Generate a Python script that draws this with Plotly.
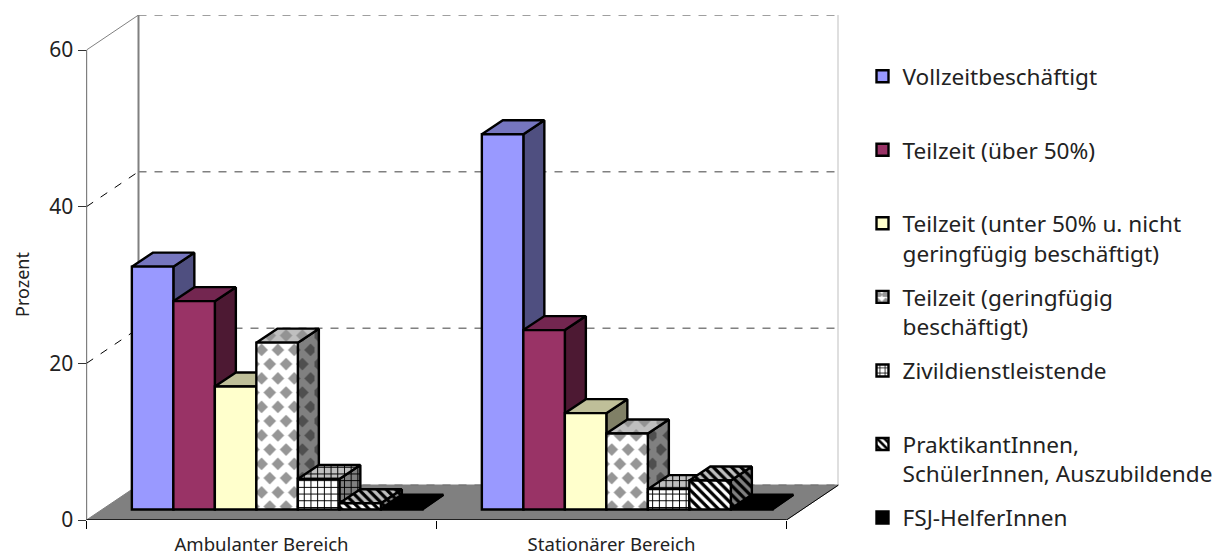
import plotly.graph_objects as go

# Percent shares per care sector
categories = ["Ambulanter Bereich", "Stationärer Bereich"]
series_names = [
    "Vollzeitbeschäftigt<br> ",
    "Teilzeit (über 50%)<br> ",
    "Teilzeit (unter 50% u. nicht<br>geringfügig beschäftigt)",
    "Teilzeit (geringfügig<br>beschäftigt)",
    "Zivildienstleistende<br> ",
    "PraktikantInnen,<br>SchülerInnen, Auszubildende",
    "FSJ-HelferInnen",
]
vollzeit = [31.0, 47.9]
teilzeit_ueber50 = [26.6, 22.9]
teilzeit_unter50 = [15.7, 12.3]
teilzeit_gering = [21.3, 9.7]
zivildienst = [3.9, 2.6]
praktikanten = [0.8, 3.7]
fsj = [0.1, 0.1]
y_ticks = [0, 20, 40, 60]

values = [vollzeit, teilzeit_ueber50, teilzeit_unter50, teilzeit_gering,
          zivildienst, praktikanten, fsj]

W, H = 1219, 556
PX_PER_CAT = 350.0
PX_PER_UNIT = 470.0 / 60
LEFT, BOTTOM = 86.5, 520.0

# Oblique projection of the box and of the bars, in axis units
WALL_X, WALL_Y = 52 / PX_PER_CAT, 35 / PX_PER_UNIT
FRONT_X, FRONT_Y = 15.6 / PX_PER_CAT, 10.5 / PX_PER_UNIT
DEPTH_X, DEPTH_Y = 21 / PX_PER_CAT, 14 / PX_PER_UNIT
BARGAP = 0.17
BAR_W = (1 - BARGAP) / len(values)
X_MAX = 2 + WALL_X
Y_MAX = 60 + WALL_Y


def diamond_tile(nx=7, ny=8, dx=16.3, dy=14.25, hw=6.3, hh=6.4):
    """Staggered lattice of diamonds for a square pattern tile."""
    parts = []
    for row in range(ny):
        for col in range(nx):
            cx = (col + 0.5 * (row % 2) + 0.25) * dx
            cy = (row + 0.5) * dy
            parts.append(f"M{cx-hw:.2f},{cy:.2f}L{cx:.2f},{cy-hh:.2f}L{cx+hw:.2f},{cy:.2f}L{cx:.2f},{cy+hh:.2f}Z")
    return "".join(parts)


DIAMONDS = diamond_tile()
TILE = 114


def pat(shape=None, bg="#fff", fg="#000", size=7, sol=0.3, path=None):
    if path:
        return dict(path=path, bgcolor=bg, fgcolor=fg, size=size, solidity=sol, fgopacity=1)
    return dict(shape=shape, bgcolor=bg, fgcolor=fg, size=size, solidity=sol, fgopacity=1)


# Face styles per series: front, top, side
styles = [
    dict(front="#9999FF", top="#7676BF", side="#4F4F80"),
    dict(front="#993366", top="#732650", side="#4D1933"),
    dict(front="#FFFFCC", top="#BFBF99", side="#808066"),
    dict(front="#FFFFFF", top="#BFBFBF", side="#808080",
         fp=pat(bg="#FFFFFF", fg="#969696", size=TILE, path=DIAMONDS),
         tp=pat(bg="#BFBFBF", fg="#939393", size=TILE, path=DIAMONDS),
         sp=pat(bg="#808080", fg="#4F4F4F", size=TILE, path=DIAMONDS)),
    dict(front="#FFFFFF", top="#BFBFBF", side="#808080",
         fp=pat("+", "#FFFFFF", "#000000", 6.7, 0.27),
         tp=pat("+", "#BFBFBF", "#000000", 6.7, 0.27),
         sp=pat("+", "#808080", "#000000", 6.7, 0.27)),
    dict(front="#FFFFFF", top="#BFBFBF", side="#808080",
         fp=pat("\\", "#FFFFFF", "#000000", 6.5, 0.5),
         tp=pat("\\", "#BFBFBF", "#000000", 6.5, 0.5),
         sp=pat("\\", "#808080", "#000000", 6.5, 0.5)),
    dict(front="#000000", top="#000000", side="#000000"),
]

fig = go.Figure()
EDGE_W = 2.4


def polygon(xs, ys, fill, pattern=None, line_color="#000", line_width=EDGE_W):
    fig.add_trace(go.Scatter(
        x=xs + xs[:1], y=ys + ys[:1], mode="lines", fill="toself", fillcolor=fill,
        fillpattern=pattern, line=dict(color=line_color, width=line_width),
        hoverinfo="skip", showlegend=False, zorder=0))


def edge(xs, ys, color, width=1, dash="solid"):
    fig.add_trace(go.Scatter(
        x=xs, y=ys, mode="lines", line=dict(color=color, width=width, dash=dash),
        hoverinfo="skip", showlegend=False, zorder=0))


# Box: back wall, floor and left wall rails
edge([WALL_X, WALL_X], [WALL_Y, Y_MAX], "#808080", 2)
edge([X_MAX, X_MAX], [WALL_Y, Y_MAX], "#C0C0C0", 2)
for t in y_ticks[1:]:
    edge([WALL_X, X_MAX], [t + WALL_Y, t + WALL_Y], "#808080", 1.5, "8px,8px")
polygon([0, 2, X_MAX, WALL_X], [0, 0, WALL_Y, WALL_Y], "#808080", line_color="#808080", line_width=1)
edge([WALL_X, X_MAX], [WALL_Y, WALL_Y], "#6E6E6E", 1, "8px,8px")
edge([0, WALL_X], [60, Y_MAX], "#808080", 1)
for t in y_ticks[1:-1]:
    edge([0, WALL_X], [t, t + WALL_Y], "#000000", 1, "8px,9px")
edge([0, 0], [0, 60], "#000000", 1.2)
edge([2, X_MAX], [0, WALL_Y], "#000000", 1)
edge([0, 2], [0, 0], "#000000", 1.5)

# Top and side faces, painted left to right
for g in range(len(categories)):
    start = g + 0.5 + FRONT_X - (1 - BARGAP) / 2
    for i, s in enumerate(values):
        v = s[g] + FRONT_Y
        l = start + i * BAR_W
        r = l + BAR_W
        st = styles[i]
        polygon([r, r + DEPTH_X, r + DEPTH_X, r],
                [FRONT_Y, FRONT_Y + DEPTH_Y, v + DEPTH_Y, v], st["side"], st.get("sp"))
        polygon([l, r, r + DEPTH_X, l + DEPTH_X],
                [v, v, v + DEPTH_Y, v + DEPTH_Y], st["top"], st.get("tp"))

# Front faces carry the values and the legend
for i, (name, s) in enumerate(zip(series_names, values)):
    st = styles[i]
    marker = dict(color=st["front"], line=dict(color="#000000", width=EDGE_W))
    if "fp" in st:
        marker["pattern"] = st["fp"]
    fig.add_trace(go.Bar(
        x=[0.5 + FRONT_X, 1.5 + FRONT_X], y=s, base=FRONT_Y, name=name,
        marker=marker, legendgroup=f"g{i}", zorder=1, hoverinfo="skip"))

FONT = "Noto Sans, sans-serif"
fig.update_layout(
    width=W, height=H, autosize=False,
    margin=dict(l=0, r=0, t=0, b=0),
    paper_bgcolor="#FFFFFF", plot_bgcolor="#FFFFFF",
    barmode="group", bargap=BARGAP, bargroupgap=0,
    font=dict(family=FONT, color="#222222", size=19),
    xaxis=dict(
        domain=[LEFT / W, 838.5 / W], range=[0, X_MAX], showgrid=False, zeroline=False,
        showline=False, automargin=False, tickvals=[0.5, 1.5], ticktext=categories, ticks="",
        tickfont=dict(size=18.6), ticklabelstandoff=11,
        minor=dict(ticks="outside", ticklen=8, tickcolor="#000000", tick0=0, dtick=1, showgrid=False),
    ),
    yaxis=dict(
        domain=[(H - BOTTOM) / H, (H - 15) / H], range=[0, Y_MAX], showgrid=False, zeroline=False,
        showline=False, automargin=False, tickvals=y_ticks, ticks="outside", ticklen=8,
        tickcolor="#333333", tickfont=dict(size=21),
    ),
    legend=dict(
        x=862.5 / W, xanchor="left", y=1 - 55 / H, yanchor="top", valign="top",
        font=dict(size=22.6), tracegroupgap=11.8, traceorder="grouped",
        bgcolor="rgba(0,0,0,0)", borderwidth=0,
    ),
    annotations=[dict(
        text="Prozent", x=22 / W, y=1 - 285 / H, xref="paper", yref="paper",
        xanchor="center", yanchor="middle",
        textangle=-90, showarrow=False, font=dict(size=18),
    )],
)

fig.write_html("out.html")
